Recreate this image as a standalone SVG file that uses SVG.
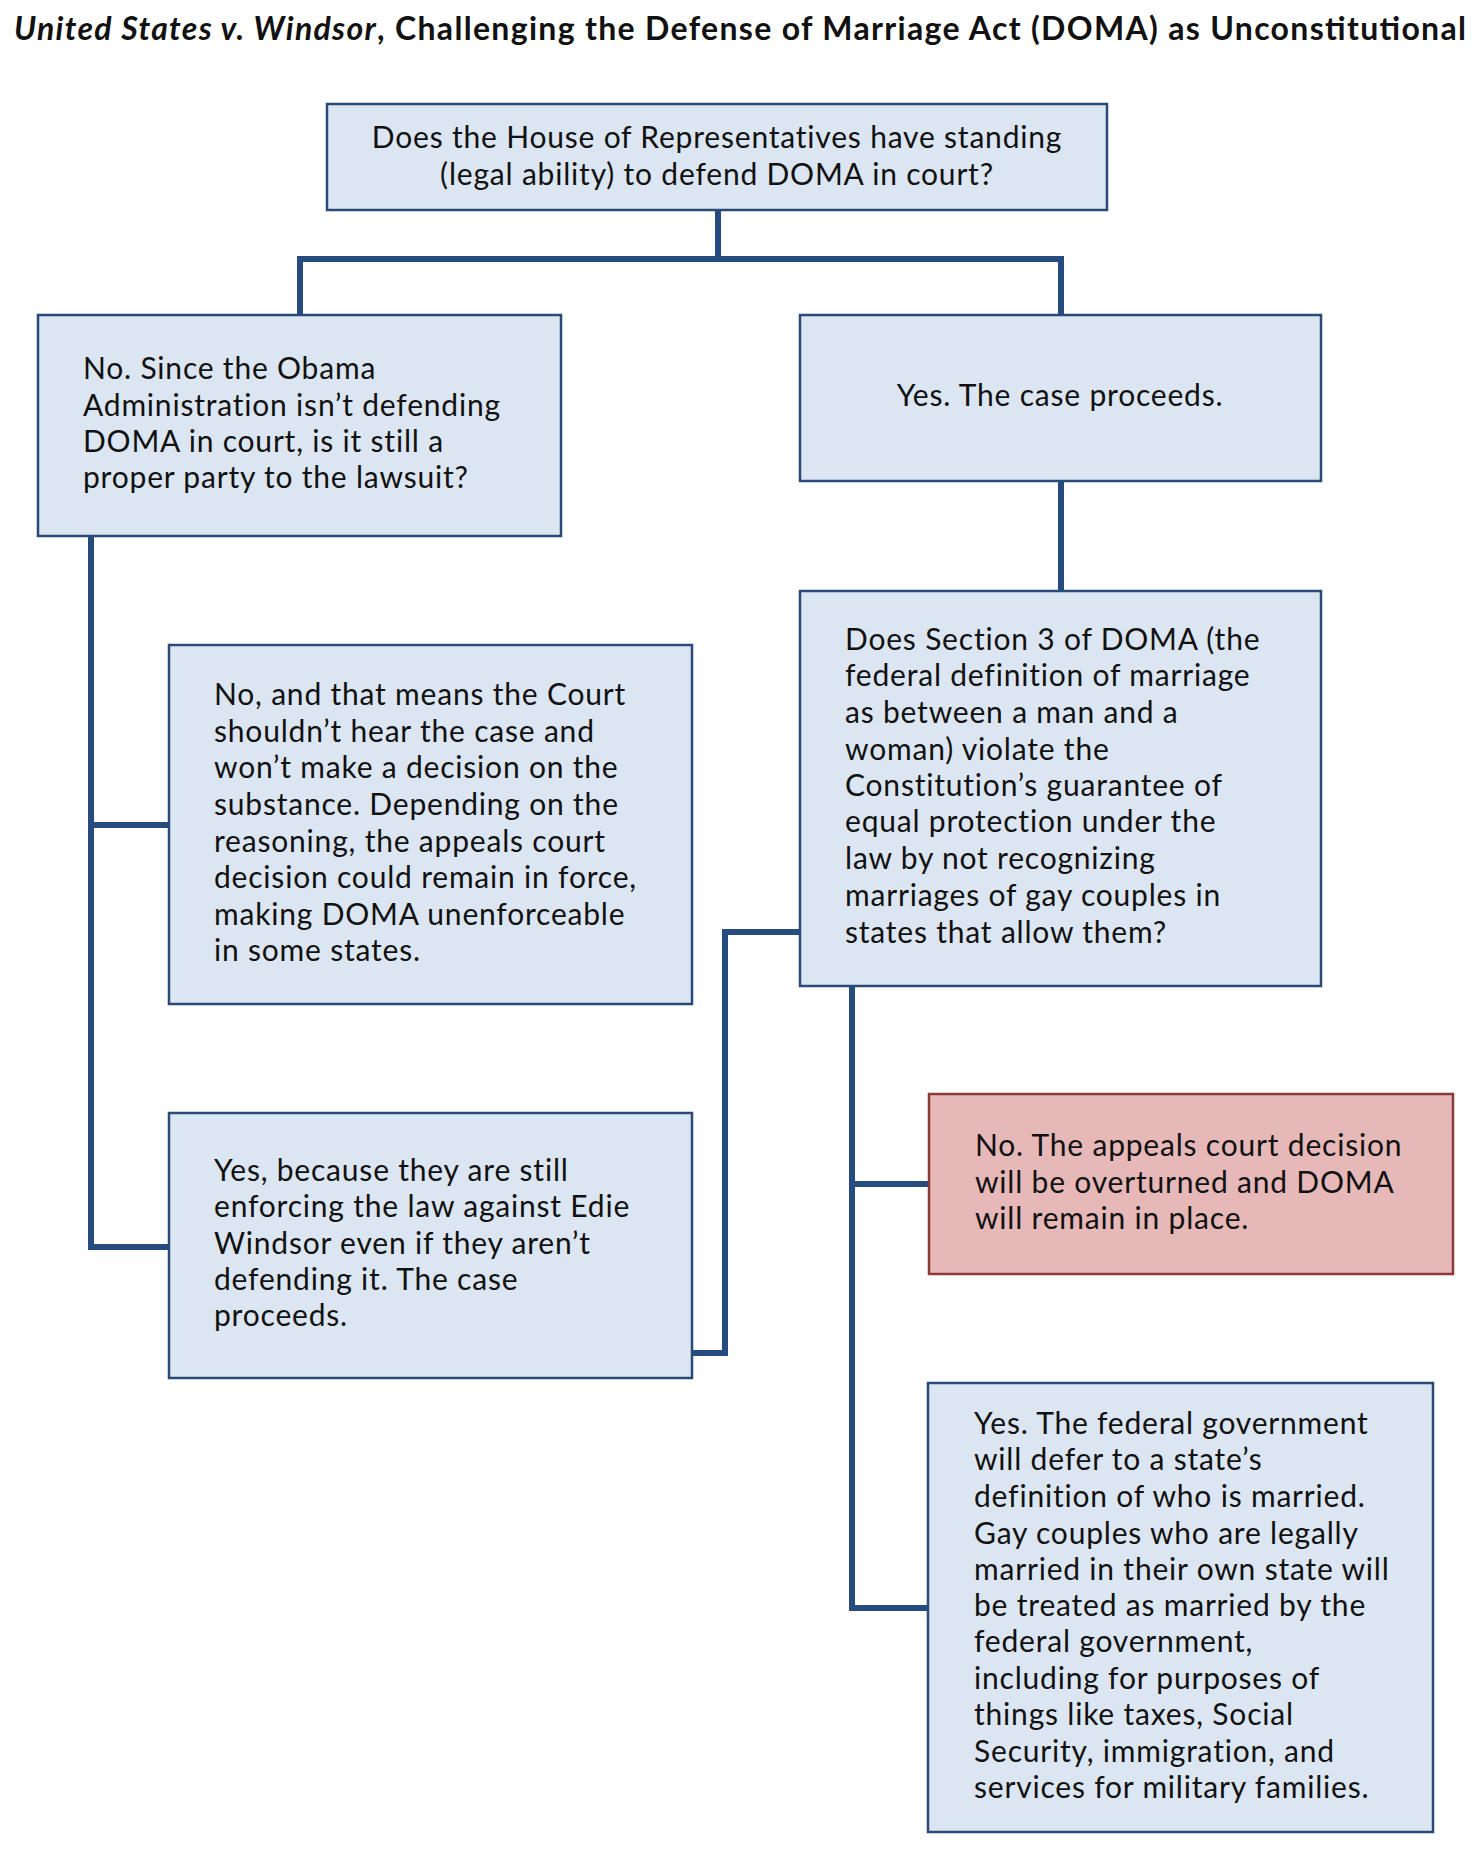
<svg xmlns="http://www.w3.org/2000/svg" width="1480" height="1853" viewBox="0 0 1480 1853">
<style>
.box{fill:#dce6f2;stroke:#2b4a78;stroke-width:2.5}
.red{fill:#e6b8b8;stroke:#8c3a38;stroke-width:2.5}
.conn{fill:none;stroke:#264b7e;stroke-width:6;stroke-linejoin:miter;stroke-linecap:butt}
text{font-family:Lato,"Open Sans",sans-serif;fill:#111;font-size:30px;letter-spacing:0.8px}
.title{font-weight:bold;font-size:32px;letter-spacing:0}
.c{text-anchor:middle}
</style>
<rect width="1480" height="1853" fill="#fff"/>
<text class="title" x="14" y="40" textLength="1452" lengthAdjust="spacing"><tspan font-style="italic">United States v. Windsor</tspan>, Challenging the Defense of Marriage Act (DOMA) as Unconstitutional</text>
<g id="connectors">
<path class="conn" d="M718,210 V259"/>
<path class="conn" d="M300,315 V259 H1061 V315"/>
<path class="conn" d="M1061,481 V591"/>
<path class="conn" d="M91,536 V1247 H169"/>
<path class="conn" d="M91,825 H169"/>
<path class="conn" d="M692,1353 H725 V932 H800"/>
<path class="conn" d="M852,986 V1608 H928"/>
<path class="conn" d="M852,1184 H929"/>
</g>
<g id="q1">
<rect class="box" x="327" y="104" width="780" height="106"/>
<text class="c" x="717" y="148">Does the House of Representatives have standing</text>
<text class="c" x="717" y="185">(legal ability) to defend DOMA in court?</text>
</g>
<g id="no1">
<rect class="box" x="38" y="315" width="523" height="221"/>
<text x="83" y="379">No. Since the Obama</text>
<text x="83" y="416">Administration isn’t defending</text>
<text x="83" y="452">DOMA in court, is it still a</text>
<text x="83" y="488">proper party to the lawsuit?</text>
</g>
<g id="yes1">
<rect class="box" x="800" y="315" width="521" height="166"/>
<text class="c" x="1060" y="406">Yes. The case proceeds.</text>
</g>
<g id="q2">
<rect class="box" x="800" y="591" width="521" height="395"/>
<text x="845" y="650">Does Section 3 of DOMA (the</text>
<text x="845" y="686">federal definition of marriage</text>
<text x="845" y="723">as between a man and a</text>
<text x="845" y="760">woman) violate the</text>
<text x="845" y="796">Constitution’s guarantee of</text>
<text x="845" y="832">equal protection under the</text>
<text x="845" y="869">law by not recognizing</text>
<text x="845" y="906">marriages of gay couples in</text>
<text x="845" y="943">states that allow them?</text>
</g>
<g id="no2">
<rect class="box" x="169" y="645" width="523" height="359"/>
<text x="214" y="705">No, and that means the Court</text>
<text x="214" y="742">shouldn’t hear the case and</text>
<text x="214" y="778">won’t make a decision on the</text>
<text x="214" y="815">substance. Depending on the</text>
<text x="214" y="852">reasoning, the appeals court</text>
<text x="214" y="888">decision could remain in force,</text>
<text x="214" y="925">making DOMA unenforceable</text>
<text x="214" y="961">in some states.</text>
</g>
<g id="yes2">
<rect class="box" x="169" y="1113" width="523" height="265"/>
<text x="214" y="1181">Yes, because they are still</text>
<text x="214" y="1217">enforcing the law against Edie</text>
<text x="214" y="1254">Windsor even if they aren’t</text>
<text x="214" y="1290">defending it. The case</text>
<text x="214" y="1326">proceeds.</text>
</g>
<g id="no3">
<rect class="red" x="929" y="1094" width="524" height="180"/>
<text x="975" y="1156">No. The appeals court decision</text>
<text x="975" y="1193">will be overturned and DOMA</text>
<text x="975" y="1229">will remain in place.</text>
</g>
<g id="yes3">
<rect class="box" x="928" y="1383" width="505" height="449"/>
<text x="974" y="1434">Yes. The federal government</text>
<text x="974" y="1470">will defer to a state’s</text>
<text x="974" y="1507">definition of who is married.</text>
<text x="974" y="1544">Gay couples who are legally</text>
<text x="974" y="1580">married in their own state will</text>
<text x="974" y="1616">be treated as married by the</text>
<text x="974" y="1652">federal government,</text>
<text x="974" y="1689">including for purposes of</text>
<text x="974" y="1725">things like taxes, Social</text>
<text x="974" y="1762">Security, immigration, and</text>
<text x="974" y="1798">services for military families.</text>
</g>
</svg>
